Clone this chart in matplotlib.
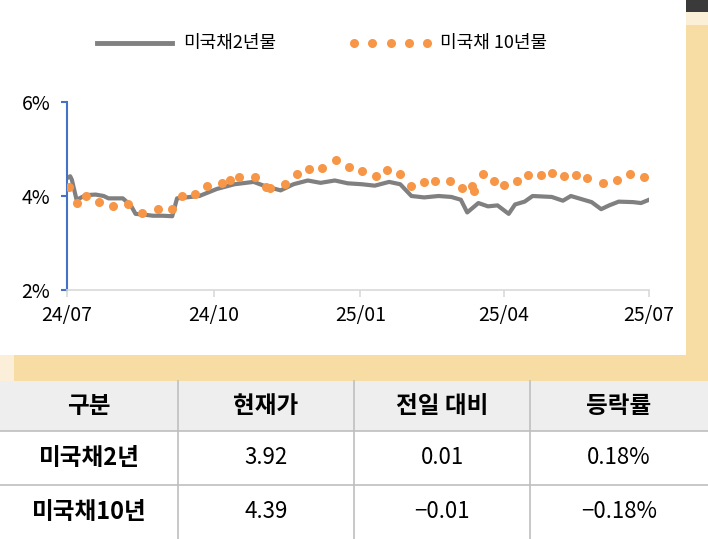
import numpy as np
import matplotlib
matplotlib.use("Agg")
import matplotlib.pyplot as plt
from matplotlib.patches import Rectangle
from matplotlib.lines import Line2D

plt.rcParams["font.family"] = ["Noto Sans CJK KR", "Noto Sans CJK JP", "Noto Sans CJK SC", "DejaVu Sans"]

# ---- data ----
x_ticks_days = [0, 92, 184, 274, 365]
x_tick_labels = ["24/07", "24/10", "25/01", "25/04", "25/07"]
y_ticks = [2, 4, 6]
y_tick_labels = ["2%", "4%", "6%"]

# 2-year (day offset from 2024-07-01, yield %)
t2_days = [0, 2, 3, 6, 12, 18, 23, 26, 35, 40, 43, 49, 54, 60, 66, 69, 83, 94, 105, 117, 125,
           134, 142, 151, 159, 168, 176, 185, 193, 202, 209, 216, 224, 233, 241, 247, 251, 258,
           264, 270, 277, 281, 287, 292, 304, 311, 316, 323, 329, 335, 340, 346, 355, 360, 365]
t2_vals = [4.38, 4.42, 4.35, 3.92, 4.02, 4.03, 4.00, 3.95, 3.95, 3.80, 3.62, 3.60, 3.58, 3.58,
           3.57, 3.95, 4.00, 4.15, 4.25, 4.30, 4.20, 4.12, 4.25, 4.33, 4.28, 4.33, 4.27, 4.25,
           4.22, 4.30, 4.25, 4.00, 3.97, 4.00, 3.98, 3.92, 3.65, 3.85, 3.78, 3.80, 3.62, 3.82,
           3.88, 4.00, 3.98, 3.90, 4.00, 3.93, 3.87, 3.72, 3.80, 3.88, 3.87, 3.85, 3.92]
# 10-year
t10_days = [1, 6, 12, 20, 29, 38, 47, 57, 66, 72, 80, 88, 97, 102, 108, 118, 125, 127,
            137, 144, 152, 160, 169, 177, 185, 194, 201, 209, 216, 224, 231, 240, 248, 254,
            255, 261, 268, 274, 282, 289, 297, 304, 312, 319, 326, 336, 345, 353, 362]
t10_vals = [4.20, 3.86, 3.99, 3.88, 3.79, 3.84, 3.64, 3.72, 3.73, 3.99, 4.04, 4.22, 4.27,
            4.35, 4.40, 4.40, 4.20, 4.17, 4.25, 4.47, 4.58, 4.59, 4.76, 4.62, 4.53, 4.42,
            4.56, 4.47, 4.22, 4.29, 4.31, 4.32, 4.17, 4.22, 4.10, 4.47, 4.31, 4.24, 4.32, 4.44,
            4.44, 4.49, 4.42, 4.45, 4.38, 4.27, 4.35, 4.47, 4.40]

legend_labels = ["미국채2년물", "미국채 10년물"]
table_header = ["구분", "현재가", "전일 대비", "등락률"]
table_rows = [["미국채2년", "3.92", "0.01", "0.18%"],
              ["미국채10년", "4.39", "−0.01", "−0.18%"]]

W, H = 708, 539
fig = plt.figure(figsize=(W / 100, H / 100), dpi=100)
fig.patch.set_facecolor("white")

def R(x0, y0, x1, y1, color, z=0, ec="none"):
    fig.add_artist(Rectangle((x0 / W, 1 - y1 / H), (x1 - x0) / W, (y1 - y0) / H,
                             transform=fig.transFigure, facecolor=color, edgecolor=ec, zorder=z))

beige = "#F7DCA4"
R(686, 0, 708, 380, beige)
R(686, 0, 708, 12, "#3A3A3A")
R(686, 12, 708, 25, "#FBEFD8")
R(0, 355, 708, 381, beige)
R(0, 355, 14, 381, "#FCEFD9")

# ---- chart ----
ax = fig.add_axes([67 / W, 1 - 290 / H, (649 - 67) / W, (290 - 102) / H])
ax.set_facecolor("none")
ax.plot(t2_days, t2_vals, color="#808080", lw=3.0, zorder=2)
ax.plot(t10_days, t10_vals, ls="none", marker="o", ms=6.5, color="#F79646", mec="none", zorder=3)
ax.set_xlim(0, 365)
ax.set_ylim(2, 6)
ax.set_xticks(x_ticks_days)
ax.set_xticklabels(x_tick_labels, fontsize=14)
ax.set_yticks(y_ticks)
ax.set_yticklabels(y_tick_labels, fontsize=14)
for s in ["top", "right"]:
    ax.spines[s].set_visible(False)
ax.spines["left"].set_color("#4472C4")
ax.spines["left"].set_linewidth(1.5)
ax.spines["bottom"].set_color("#D9D9D9")
ax.spines["bottom"].set_linewidth(1.2)
ax.tick_params(axis="y", colors="#4472C4", labelcolor="black", length=4, width=1.5, pad=8)
ax.tick_params(axis="x", colors="#D9D9D9", labelcolor="black", length=5, width=1.2, pad=6)

# ---- legend ----
fig.add_artist(Line2D([97 / W, 172 / W], [1 - 43 / H] * 2, color="#808080", lw=3.5,
                      transform=fig.transFigure))
fig.text(183 / W, 1 - 43 / H, legend_labels[0], fontsize=13, va="center")
fig.add_artist(Line2D(np.linspace(354, 427, 5) / W, [1 - 43 / H] * 5, ls="none", marker="o",
                      ms=6.5, color="#F79646", mec="none", transform=fig.transFigure))
fig.text(440 / W, 1 - 43 / H, legend_labels[1], fontsize=13, va="center")

# ---- table ----
col_edges = [0, 178, 354, 530, 708]
row_edges = [381, 431, 485, 539]
R(0, 381, 708, 431, "#EEEEEE", z=1)
for ce in col_edges[1:-1]:
    fig.add_artist(Line2D([ce / W] * 2, [1 - 381 / H, 0], color="#BFBFBF", lw=1.2,
                          transform=fig.transFigure, zorder=2))
for re in row_edges[1:-1]:
    fig.add_artist(Line2D([0, 1], [1 - re / H] * 2, color="#BFBFBF", lw=1.2,
                          transform=fig.transFigure, zorder=2))
rows = [table_header] + table_rows
for ri, row in enumerate(rows):
    yc = 1 - (row_edges[ri] + row_edges[ri + 1]) / 2 / H
    for ci, txt in enumerate(row):
        xc = (col_edges[ci] + col_edges[ci + 1]) / 2 / W
        bold = ri == 0 or ci == 0
        fig.text(xc, yc, txt, ha="center", va="center", fontsize=17 if bold else 16,
                 fontweight="bold" if bold else "normal", zorder=3)

fig.savefig("out.png", dpi=100)
